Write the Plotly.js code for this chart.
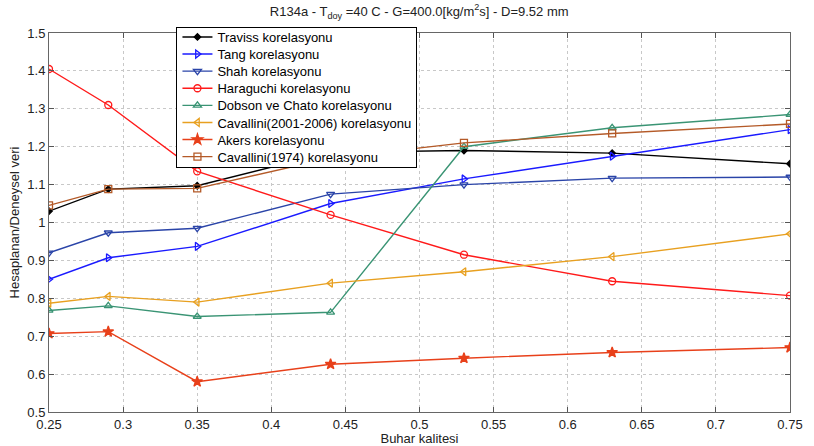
<!DOCTYPE html>
<html>
<head>
<meta charset="utf-8">
<script src="https://cdn.plot.ly/plotly-3.0.1.min.js"></script>
<style>html,body{margin:0;padding:0;background:#fff;}#chart{width:814px;height:446px;}</style>
</head>
<body>
<div id="chart"></div>
<script>
const quality = [0.25, 0.29, 0.35, 0.44, 0.53, 0.63, 0.75];
const traviss = [1.03, 1.088, 1.097, 1.185, 1.19, 1.183, 1.155];
const tang = [0.85, 0.907, 0.937, 1.05, 1.115, 1.175, 1.245];
const shah = [0.92, 0.973, 0.985, 1.075, 1.10, 1.117, 1.12];
const haraguchi = [1.405, 1.31, 1.135, 1.02, 0.915, 0.845, 0.807];
const dobson = [0.768, 0.78, 0.752, 0.763, 1.20, 1.25, 1.285];
const cavallini2001 = [0.787, 0.805, 0.79, 0.84, 0.87, 0.91, 0.97];
const akers = [0.707, 0.712, 0.58, 0.626, 0.642, 0.657, 0.67];
const cavallini1974 = [1.045, 1.088, 1.09, 1.17, 1.21, 1.235, 1.26];

const names = ["Traviss korelasyonu", "Tang korelasyonu", "Shah korelasyonu", "Haraguchi korelasyonu",
  "Dobson ve Chato korelasyonu", "Cavallini(2001-2006) korelasyonu", "Akers korelasyonu", "Cavallini(1974) korelasyonu"];
const xTicks = [0.25, 0.3, 0.35, 0.4, 0.45, 0.5, 0.55, 0.6, 0.65, 0.7, 0.75];
const yTicks = [0.5, 0.6, 0.7, 0.8, 0.9, 1, 1.1, 1.2, 1.3, 1.4, 1.5];

const series = [traviss, tang, shah, haraguchi, dobson, cavallini2001, akers, cavallini1974];
const colors = ["#000000", "#1a1aff", "#2a44a8", "#ff1a1a", "#3a9474", "#e8a020", "#e8401a", "#b45a28"];
const symbols = ["diamond", "triangle-right-open", "triangle-down-open", "circle-open", "triangle-up-open", "triangle-left-open", "star", "square-open"];
const sizes = [5, 7, 7, 7, 7, 7, 8, 7];

const traces = series.map((s, i) => ({
  x: quality, y: s, name: names[i], type: "scatter", mode: "lines+markers",
  line: {color: colors[i], width: 1.4},
  marker: {symbol: symbols[i], size: sizes[i], color: colors[i], line: {color: colors[i], width: 1.3}}
}));

const layout = {
  width: 814, height: 446,
  margin: {l: 49, r: 24, t: 33, b: 34},
  paper_bgcolor: "#fff", plot_bgcolor: "#fff",
  font: {family: "Liberation Sans, Arial, sans-serif", size: 13, color: "#222"},
  title: {text: "R134a - T<sub>doy</sub> =40 C - G=400.0[kg/m<sup>2</sup>s] - D=9.52 mm", x: 0.515, xanchor: "center", y: 0.985, yanchor: "top", font: {size: 13, color: "#222"}},
  xaxis: {range: [0.25, 0.75], tickvals: xTicks, ticktext: xTicks.map(String), ticks: "inside", ticklen: 5, tickcolor: "#555",
    showgrid: true, gridcolor: "#c8c8c8", griddash: "dot", gridwidth: 1, zeroline: false,
    showline: true, linecolor: "#666", mirror: "ticks", linewidth: 1,
    title: {text: "Buhar kalitesi", standoff: 0, font: {size: 13, color: "#222"}}, tickfont: {size: 13, color: "#222"}},
  yaxis: {range: [0.5, 1.5], tickvals: yTicks, ticktext: yTicks.map(String), ticks: "inside", ticklen: 5, tickcolor: "#555",
    showgrid: true, gridcolor: "#c8c8c8", griddash: "dot", gridwidth: 1, zeroline: false,
    showline: true, linecolor: "#666", mirror: "ticks", linewidth: 1,
    title: {text: "Hesaplanan/Deneysel veri", standoff: 4, font: {size: 13, color: "#222"}}, tickfont: {size: 13, color: "#222"}},
  legend: {x: 0.172, y: 1.016, xanchor: "left", yanchor: "top", bgcolor: "#fff", bordercolor: "#000", borderwidth: 1,
    font: {size: 13, color: "#000"}, tracegroupgap: 0, itemwidth: 30},
  showlegend: true
};

Plotly.newPlot("chart", traces, layout, {displayModeBar: false, staticPlot: true}).then(() => {
  // adjust legend row spacing to match the reference
  const leg = document.querySelector("#chart .legend");
  if (!leg) return;
  const items = leg.querySelectorAll("g.traces");
  const step = 17.1, first = 10;
  items.forEach((g, i) => {
    const m = /translate\(\s*([-\d.]+)[ ,]+([-\d.]+)/.exec(g.getAttribute("transform") || "");
    const tx = m ? parseFloat(m[1]) : 0;
    g.setAttribute("transform", "translate(" + tx + "," + (first + i * step) + ")");
  });
  const bg = leg.querySelector("rect.bg");
  if (bg) bg.setAttribute("height", String(first + (items.length - 1) * step + 10));
});
</script>
</body>
</html>
